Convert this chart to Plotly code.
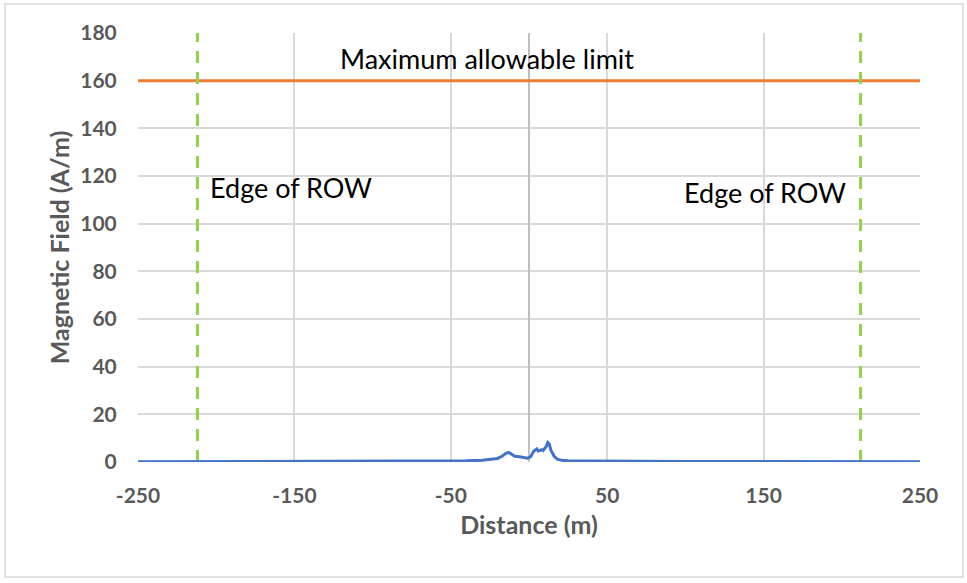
import plotly.graph_objects as go

# Measured magnetic field profile across the right-of-way
distance = [-250, -200, -150, -100, -60, -40, -30, -25, -20, -17, -15, -13, -11, -9, -6, -3, -1,
            1, 3, 5, 6, 8, 9, 11, 12, 13, 14, 16, 18, 21, 25, 40, 60, 100, 150, 200, 250]
field = [0.1, 0.15, 0.2, 0.3, 0.4, 0.5, 0.7, 1.0, 1.5, 2.5, 3.5, 4.0, 3.2, 2.4, 2.2, 2.0, 1.6,
         2.2, 4.5, 5.5, 4.6, 5.2, 4.8, 6.5, 8.2, 7.5, 5.0, 2.5, 1.2, 0.7, 0.5, 0.4, 0.3, 0.25, 0.2, 0.15, 0.1]

limit_x = [-250, 250]
limit_y = [160, 160]
row_edges = [-212, 212]
row_y = [0, 180]

x_ticks = [-250, -150, -50, 50, 150, 250]
y_ticks = [0, 20, 40, 60, 80, 100, 120, 140, 160, 180]

fig = go.Figure()

fig.add_trace(go.Scatter(x=limit_x, y=limit_y, mode='lines',
                         line=dict(color='#ED7D31', width=3), showlegend=False))

for xe in row_edges:
    fig.add_trace(go.Scatter(x=[xe, xe], y=row_y, mode='lines',
                             line=dict(color='#92D050', width=3, dash='12px,9px'),
                             showlegend=False))

fig.add_trace(go.Scatter(x=distance, y=field, mode='lines',
                         line=dict(color='#4472C4', width=3), showlegend=False))

txt = dict(family='Lato, sans-serif', size=27, color='#000000')
fig.add_annotation(x=-27, y=169.5, text='Maximum allowable limit', showarrow=False, font=txt)
fig.add_annotation(x=-152, y=115, text='Edge of ROW', showarrow=False, font=txt)
fig.add_annotation(x=151, y=113, text='Edge of ROW', showarrow=False, font=txt)

# outer chart border
fig.add_shape(type='rect', xref='paper', yref='paper', x0=-0.170, x1=1.055, y0=-0.268, y1=1.0676,
              line=dict(color='#D9D9D9', width=1.5), layer='below')

tickfont = dict(family='Lato, sans-serif', size=21, color='#595959', weight='bold')
titlefont = dict(family='Lato, sans-serif', size=25, color='#595959', weight='bold')

fig.update_layout(
    width=967, height=583,
    margin=dict(l=138, r=47, t=33, b=121),
    plot_bgcolor='white', paper_bgcolor='white',
    xaxis=dict(range=[-250, 250], tickvals=x_ticks, ticktext=[str(v) for v in x_ticks],
               showgrid=True, gridcolor='#D9D9D9', gridwidth=1.5,
               zeroline=True, zerolinecolor='#BFBFBF', zerolinewidth=1.5,
               showline=False, ticks='outside', ticklen=15, tickcolor='rgba(0,0,0,0)',
               tickfont=tickfont,
               title=dict(text='Distance (m)', font=titlefont, standoff=10)),
    yaxis=dict(range=[0, 180], tickvals=y_ticks,
               showgrid=True, gridcolor='#D9D9D9', gridwidth=1.5,
               zeroline=False, showline=False, ticks='outside', ticklen=16,
               tickcolor='rgba(0,0,0,0)', tickfont=tickfont,
               title=dict(text='Magnetic Field (A/m)', font=titlefont, standoff=3)),
)

fig.write_html('out.html', config={'displayModeBar': False},
               post_script="document.body.style.margin='0';")
